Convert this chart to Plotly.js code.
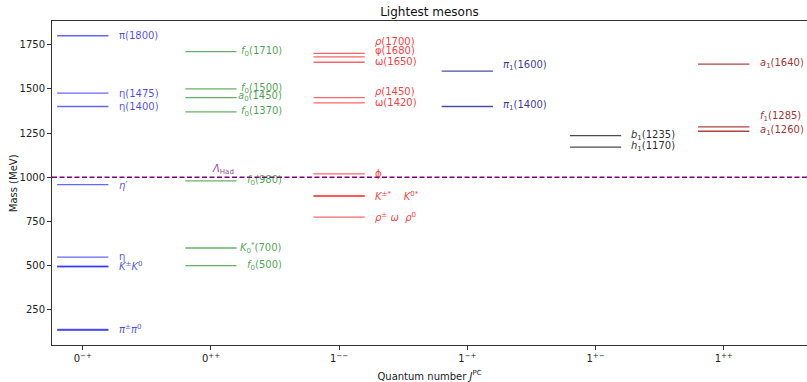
<!DOCTYPE html>
<html>
<head>
<meta charset="utf-8">
<script src="https://cdn.plot.ly/plotly-3.0.1.min.js"></script>
<style>html,body{margin:0;padding:0;overflow:hidden;background:#fff;}</style>
</head>
<body>
<div id="chart" style="width:807px;height:382px;"></div>
<script>
// Quantum-number columns (x categories)
const tickLabels = ['0<sup>−+</sup>', '0<sup>++</sup>', '1<sup>−−</sup>', '1<sup>−+</sup>', '1<sup>+−</sup>', '1<sup>++</sup>'];

// Energy levels: column index and mass (MeV)
const levelGroup = [0,0,0,0,0,0,0,0,0, 1,1,1,1,1,1,1, 2,2,2,2,2,2,2,2,2, 3,3, 4,4, 5,5,5];
const levelMass  = [1800,1475,1400,958,548,494,498,140,135,
                    1710,1500,1450,1370,980,600,500,
                    1700,1680,1650,1450,1420,1019,892,896,775,
                    1600,1400,
                    1235,1170,
                    1640,1285,1260];

// Labels: column index, vertical position (MeV), text
const labelGroup = [0,0,0,0,0,0,0, 1,1,1,1,1,1,1, 2,2,2,2,2,2,2,2, 3,3, 4,4, 5,5,5];
const labelMass  = [1800,1475,1400,953,552,501,143,
                    1710,1502,1457,1370,980,598,500,
                    1765,1714,1652,1487,1423,1021,896,773,
                    1633,1405,
                    1238,1174,
                    1644,1342,1266];
const labelText  = ['π(1800)','η(1475)','η(1400)','<i>η′</i>','η','<i>K</i><sup>±</sup><i>K</i><sup>0</sup>','<i>π</i><sup>±</sup><i>π</i><sup>0</sup>',
                    '<i>f</i><sub>0</sub>(1710)','<i>f</i><sub>0</sub>(1500)','<i>a</i><sub>0</sub>(1450)','<i>f</i><sub>0</sub>(1370)','<i>f</i><sub>0</sub>(980)','<i>K</i><sub>0</sub><sup>*</sup>(700)','<i>f</i><sub>0</sub>(500)',
                    '<i>ρ</i>(1700)','φ(1680)','ω(1650)','<i>ρ</i>(1450)','ω(1420)','ϕ','<i>K</i><sup>±*</sup>    <i>K</i><sup>0*</sup>','<i>ρ</i><sup>±</sup> <i>ω</i>  <i>ρ</i><sup>0</sup>',
                    '<i>π</i><sub>1</sub>(1600)','<i>π</i><sub>1</sub>(1400)',
                    '<i>b</i><sub>1</sub>(1235)','<i>h</i><sub>1</sub>(1170)',
                    '<i>a</i><sub>1</sub>(1640)','<i>f</i><sub>1</sub>(1285)','<i>a</i><sub>1</sub>(1260)'];

const hadronicScale = 1000;
const hadronicLabel = '<i>Λ</i><sub>Had</sub>';

const lineColors  = ['rgba(0,0,255,0.6)','rgba(0,128,0,0.6)','rgba(255,0,0,0.6)','rgba(0,0,139,0.7)','rgba(0,0,0,0.7)','rgba(165,30,30,0.85)'];
const labelColors = ['rgba(0,0,255,0.72)','rgba(0,128,0,0.72)','rgba(255,0,0,0.8)','rgba(0,0,139,0.8)','rgba(0,0,0,0.85)','rgba(160,15,15,0.9)'];

const traces = levelGroup.map((g, i) => ({
  type: 'scatter', mode: 'lines',
  x: [g - 0.2, g + 0.2], y: [levelMass[i], levelMass[i]],
  line: {color: lineColors[g], width: 1.3},
  hoverinfo: 'skip', showlegend: false
}));

const annotations = labelGroup.map((g, i) => {
  const right = (g === 1);
  return {
    xref: 'x', yref: 'y',
    x: right ? g + 0.57 : g + 0.265,
    y: labelMass[i],
    xanchor: right ? 'right' : 'left', yanchor: 'middle',
    text: labelText[i], showarrow: false,
    font: {family: 'DejaVu Sans', size: 10, color: labelColors[g]}
  };
});
annotations.push({
  xref: 'x', yref: 'y', x: 0.99, y: hadronicScale, xanchor: 'left', yanchor: 'bottom',
  yshift: -1, text: hadronicLabel, showarrow: false,
  font: {family: 'DejaVu Sans', size: 10, color: 'rgba(128,0,128,0.8)'}
});
annotations.push({
  xref: 'paper', yref: 'paper', x: -0.05, y: 0.5, xanchor: 'center', yanchor: 'middle',
  textangle: -90, text: 'Mass (MeV)', showarrow: false, xshift: -1,
  font: {family: 'DejaVu Sans', size: 10, color: '#222'}
});

const layout = {
  width: 807, height: 382,
  margin: {l: 52, r: 0, t: 21, b: 37},
  paper_bgcolor: '#fff', plot_bgcolor: '#fff',
  font: {family: 'DejaVu Sans', size: 10, color: '#222'},
  title: {text: 'Lightest mesons', x: 0.5, xref: 'paper', xanchor: 'center', y: 0.97, yref: 'container', yanchor: 'middle', font: {family: 'DejaVu Sans', size: 12, color: '#111'}},
  xaxis: {
    range: [-0.24, 5.65], tickvals: [0,1,2,3,4,5], ticktext: tickLabels,
    showgrid: false, zeroline: false, showline: true, mirror: true,
    linecolor: '#333', linewidth: 1, ticks: 'outside', ticklen: 4, tickcolor: '#333',
    tickfont: {family: 'DejaVu Sans', size: 10, color: '#222'},
    title: {text: 'Quantum number <i>J</i><sup>PC</sup>', standoff: 9, font: {family: 'DejaVu Sans', size: 10, color: '#222'}}
  },
  yaxis: {
    range: [51.75, 1883.25], tickvals: [250,500,750,1000,1250,1500,1750],
    showgrid: false, zeroline: false, showline: true, mirror: false,
    linecolor: '#333', linewidth: 1, ticks: 'outside', ticklen: 4, tickcolor: '#333',
    tickfont: {family: 'DejaVu Sans', size: 10, color: '#222'}
  },
  shapes: [{
    type: 'line', xref: 'paper', yref: 'y', x0: 0, x1: 1, y0: hadronicScale, y1: hadronicScale,
    line: {color: '#800080', width: 1.4, dash: '5px,2.5px'}
  }],
  annotations: annotations
};

Plotly.newPlot('chart', traces, layout, {displayModeBar: false, staticPlot: true});
</script>
</body>
</html>
